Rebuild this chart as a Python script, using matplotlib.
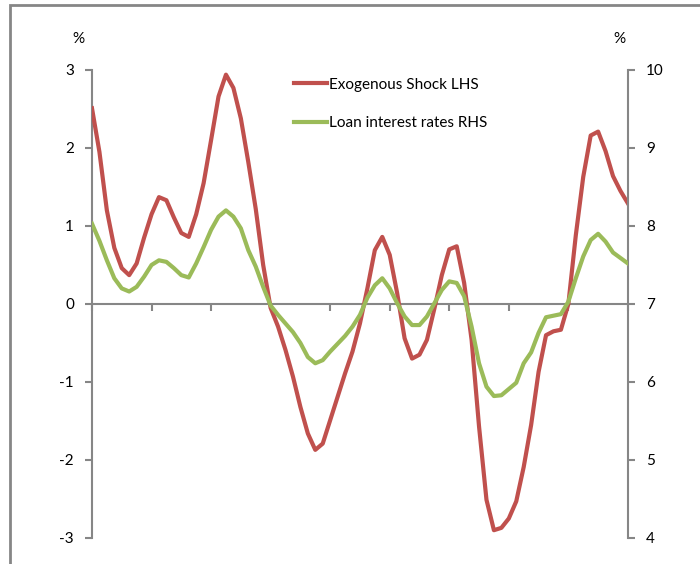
import matplotlib.pyplot as plt
from matplotlib.patches import Rectangle
import numpy as np

plt.rcParams['font.family'] = ['Lato', 'DejaVu Sans']
plt.rcParams['axes.unicode_minus'] = False

# Exogenous shock (left axis, %)
shock = [2.51, 1.95, 1.20, 0.72, 0.46, 0.37, 0.52, 0.85, 1.15, 1.37,
         1.33, 1.11, 0.91, 0.86, 1.15, 1.55, 2.10, 2.66, 2.94, 2.77,
         2.38, 1.82, 1.22, 0.50, -0.05, -0.29, -0.59, -0.93, -1.32, -1.66,
         -1.87, -1.79, -1.49, -1.19, -0.89, -0.61, -0.25, 0.20, 0.69, 0.86,
         0.63, 0.14, -0.44, -0.70, -0.65, -0.46, -0.06, 0.37, 0.70, 0.74,
         0.27, -0.46, -1.57, -2.51, -2.90, -2.87, -2.75, -2.53, -2.09, -1.55,
         -0.87, -0.40, -0.35, -0.33, 0.00, 0.88, 1.63, 2.16, 2.21, 1.96,
         1.64, 1.45, 1.29]

# Loan interest rates (right axis, %)
loan = [8.03, 7.81, 7.56, 7.33, 7.20, 7.16, 7.22, 7.35, 7.50, 7.56,
        7.54, 7.46, 7.37, 7.34, 7.52, 7.73, 7.95, 8.12, 8.20, 8.12,
        7.97, 7.69, 7.48, 7.22, 6.98, 6.86, 6.75, 6.64, 6.50, 6.32,
        6.24, 6.28, 6.39, 6.49, 6.59, 6.71, 6.86, 7.08, 7.24, 7.33,
        7.20, 7.01, 6.84, 6.73, 6.73, 6.84, 7.01, 7.18, 7.29, 7.27,
        7.10, 6.71, 6.24, 5.94, 5.82, 5.83, 5.91, 5.99, 6.24, 6.38,
        6.63, 6.83, 6.85, 6.87, 7.03, 7.33, 7.61, 7.82, 7.90, 7.80,
        7.66, 7.59, 7.52]

left_ticks = [-3, -2, -1, 0, 1, 2, 3]
right_ticks = [4, 5, 6, 7, 8, 9, 10]

gray = '#868686'
red = '#C0504D'
green = '#9BBB59'

fig = plt.figure(figsize=(7, 5.64), dpi=100)
ax = fig.add_axes([0.1314, 0.0461, 0.7656, 0.8298])
ax2 = ax.twinx()

x = np.arange(len(shock))
ax.plot(x, shock, color=red, lw=3, label='Exogenous Shock LHS', zorder=3)
ax2.plot(x, loan, color=green, lw=3, label='Loan interest rates RHS', zorder=3)

ax.set_xlim(0, len(shock) - 1)
ax.set_ylim(-3, 3)
ax2.set_ylim(4, 10)
ax.set_yticks(left_ticks)
ax2.set_yticks(right_ticks)
ax.set_xticks(np.arange(0, len(shock), 8))
ax.set_xticklabels([])

for a in (ax, ax2):
    a.spines['top'].set_visible(False)
    for s in a.spines.values():
        s.set_color(gray)
        s.set_linewidth(1.5)
    a.tick_params(axis='y', colors=gray, length=5, width=1.5, labelcolor='black',
                  labelsize=11, pad=8)
ax.spines['right'].set_visible(False)
ax2.spines['left'].set_visible(False)
ax2.spines['bottom'].set_visible(False)
ax.spines['bottom'].set_position(('data', 0))
ax.tick_params(axis='x', colors=gray, length=5, width=1.5, direction='out')

ax.text(-0.026, 1.058, '%', transform=ax.transAxes, ha='center', fontsize=11)
ax2.text(0.985, 1.058, '%', transform=ax.transAxes, ha='center', fontsize=11)

h1, l1 = ax.get_legend_handles_labels()
h2, l2 = ax2.get_legend_handles_labels()
ax2.legend(h1 + h2, l1 + l2, loc='upper left', bbox_to_anchor=(0.351, 1.013),
           frameon=False, fontsize=11, handlelength=2.2, handletextpad=0.1,
           labelspacing=1.6)

fig.patches.append(Rectangle((10 / 700, -0.1), 1.2, 1.1 - 5 / 564,
                             transform=fig.transFigure, fill=False,
                             edgecolor=gray, lw=2))

fig.savefig('out.png', dpi=100)
